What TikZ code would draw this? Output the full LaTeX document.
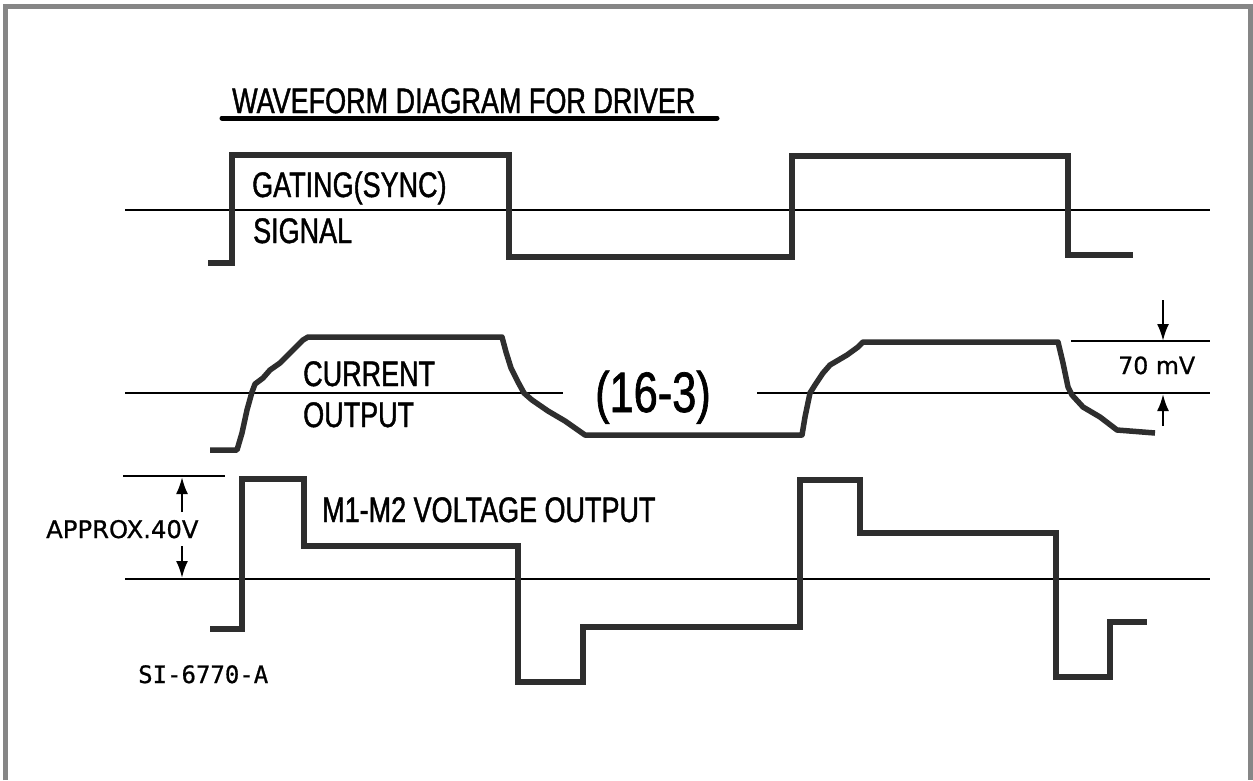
\documentclass[tikz,border=0pt]{standalone}
\usepackage{fontspec}
\setmainfont{Liberation Sans}[FakeStretch=0.76,FakeBold=1.2]
\newfontfamily\monofont{DejaVu Sans Mono}[FakeBold=0.8]
\newfontfamily\dimfont{DejaVu Sans}[FakeBold=0.8]
\usetikzlibrary{arrows.meta}
\begin{document}
\begin{tikzpicture}[x=1pt,y=-1pt,
  wave/.style={line width=5.5pt, draw=black!82, line join=miter, line cap=butt},
  refline/.style={line width=2.2pt, draw=black},
  dimarrow/.style={line width=2.4pt, draw=black, -{Latex[length=17pt,width=12pt]}},
  lbl/.style={inner sep=0pt, anchor=base west, font=\fontsize{35.5}{40}\selectfont},
  dimlbl/.style={inner sep=0pt, anchor=base west, font=\dimfont\fontsize{24.3}{30}\selectfont}]
\fill[white] (0,0) rectangle (1253,780);
\useasboundingbox (0,0) rectangle (1253,780);
% frame
\draw[line width=5pt, draw=gray!95] (5.8,780) -- (5.8,6) -- (1250.5,6) -- (1250.5,780);

% title
\node[lbl] (title) at (232,113) {WAVEFORM DIAGRAM FOR DRIVER};
\coordinate (ulA) at (222,118);
\coordinate (ulB) at (717,118);
\draw[line width=5pt, line cap=round] (ulA) -- (ulB);

% ---------- gating signal ----------
\coordinate (gL) at (125,210);
\coordinate (gR) at (1210,210);
\draw[refline] (gL) -- (gR);
\draw[wave] (208,263) -- (232,263) -- (232,155) -- (509,155) -- (509,257)
  -- (792,257) -- (792,156) -- (1068,156) -- (1068,255) -- (1133,255);
\node[lbl] (gating) at (252,197) {GATING(SYNC)};
\node[lbl] (signal) at (253,243) {SIGNAL};

% ---------- current output ----------
\node[inner sep=0pt, anchor=base west, font=\fontsize{57}{60}\selectfont] (fig) at (595,412) {(16-3)};
\coordinate (cL) at (125,393);
\coordinate (cM1) at (563,393);
\coordinate (cM2) at (757,393);
\coordinate (cR) at (1210,393);
\draw[refline] (cL) -- (cM1);
\draw[refline] (cM2) -- (cR);
\draw[wave, line join=round] (210,450) -- (237,450) -- (242,433) -- (247,410) -- (252,392)
  -- (255,384) -- (263,378) -- (270,370) -- (280,363) -- (293,350) -- (303,340) -- (308,337)
  -- (502,337) -- (506,352) -- (511,368) -- (518,382) -- (524,393) -- (532,400)
  -- (548,411) -- (565,421) -- (585,435) -- (802,435) -- (805,417) -- (810,393)
  -- (815,385) -- (823,373) -- (830,365) -- (847,355) -- (858,347) -- (863,342)
  -- (1058,342) -- (1063,363) -- (1068,387) -- (1072,395) -- (1083,407) -- (1100,417)
  -- (1117,430) -- (1155,433);
\node[lbl] (current) at (303,386) {CURRENT};
\node[lbl] (output) at (303,427) {OUTPUT};
% 70 mV dimension
\coordinate (mvA) at (1071,341);
\coordinate (mvB) at (1210,341);
\draw[refline] (mvA) -- (mvB);
\coordinate (mvT) at (1163,341);
\coordinate (mvTs) at (1163,300);
\coordinate (mvU) at (1163,394);
\coordinate (mvUs) at (1163,426);
\draw[dimarrow] (mvTs) -- (mvT);
\draw[dimarrow] (mvUs) -- (mvU);
\node[dimlbl, font=\dimfont\fontsize{23.7}{30}\selectfont] (mv) at (1118,374) {70 mV};

% ---------- M1-M2 voltage output ----------
\coordinate (vL) at (125,579);
\coordinate (vR) at (1210,579);
\draw[refline] (vL) -- (vR);
\draw[wave] (210,629) -- (242,629) -- (242,479) -- (304,479) -- (304,546) -- (518,546)
  -- (518,682) -- (583,682) -- (583,627) -- (800,627) -- (800,480) -- (860,480)
  -- (860,533) -- (1056,533) -- (1056,677) -- (1110,677) -- (1110,622) -- (1147,622);
\node[lbl] (m1m2) at (322,522) {M1-M2 VOLTAGE OUTPUT};
% 40 V dimension
\coordinate (tA) at (123,476);
\coordinate (tB) at (225,476);
\draw[refline] (tA) -- (tB);
\coordinate (aT) at (182,477);
\coordinate (aTs) at (182,512);
\coordinate (aB) at (182,578);
\coordinate (aBs) at (182,546);
\draw[dimarrow] (aTs) -- (aT);
\draw[dimarrow] (aBs) -- (aB);
\node[dimlbl] (approx) at (46,538) {APPROX.40V};
\node[inner sep=0pt, anchor=base west, font=\monofont\fontsize{24}{28}\selectfont] (si) at (138,683) {SI-6770-A};
\end{tikzpicture}
\end{document}
